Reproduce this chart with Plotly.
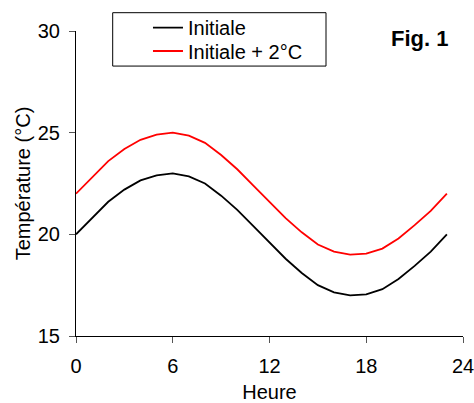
import plotly.graph_objects as go

hours = list(range(24))
initiale = [20.0, 20.8, 21.6, 22.2, 22.65, 22.9, 23.0, 22.85, 22.5, 21.9, 21.2, 20.4,
            19.6, 18.8, 18.1, 17.5, 17.15, 17.0, 17.05, 17.3, 17.8, 18.45, 19.15, 20.0]
plus2 = [22.0, 22.8, 23.6, 24.2, 24.65, 24.9, 25.0, 24.85, 24.5, 23.9, 23.2, 22.4,
         21.6, 20.8, 20.1, 19.5, 19.15, 19.0, 19.05, 19.3, 19.8, 20.45, 21.15, 22.0]
names = ["Initiale", "Initiale + 2°C"]
xticks = [0, 6, 12, 18, 24]
yticks = [15, 20, 25, 30]

FONT = "Liberation Sans, Arial, sans-serif"
FS = 20

fig = go.Figure()
fig.add_trace(go.Scatter(x=hours, y=initiale, mode="lines", name=names[0],
                         line=dict(color="black", width=1.8), legend="legend"))
fig.add_trace(go.Scatter(x=hours, y=plus2, mode="lines", name=names[1],
                         line=dict(color="#ff0000", width=1.8), legend="legend2"))

axis_common = dict(showgrid=False, zeroline=False, showline=True, linecolor="black",
                   linewidth=1, ticks="outside", ticklen=6, tickcolor="#555555",
                   automargin=False, ticklabeloverflow="allow",
                   tickfont=dict(family=FONT, size=FS, color="black"))

fig.update_xaxes(range=[0, 24], tickvals=xticks, ticktext=[str(v) for v in xticks],
                 title=dict(text="Heure", font=dict(family=FONT, size=FS, color="black"), standoff=9),
                 ticklabelstandoff=6, **axis_common)
fig.update_yaxes(range=[15, 30], tickvals=yticks, ticktext=[str(v) for v in yticks],
                 title=dict(text="Température (°C)", font=dict(family=FONT, size=FS, color="black"), standoff=1),
                 ticklabelstandoff=5, **axis_common)

fig.add_annotation(text="<b>Fig. 1</b>", xref="paper", yref="paper", x=0.966, y=0.974,
                   xanchor="right", yanchor="middle", showarrow=False,
                   font=dict(family=FONT, size=22, color="black"))

# legend frame
fig.add_shape(type="rect", xref="paper", yref="paper",
              x0=0.0948, x1=0.646, y0=0.885, y1=1.060,
              line=dict(color="black", width=1), fillcolor="rgba(0,0,0,0)", layer="above")

legend_common = dict(xanchor="left", yanchor="top",
                     borderwidth=0, bgcolor="rgba(0,0,0,0)",
                     font=dict(family=FONT, size=FS, color="black"), itemwidth=30)

fig.update_layout(
    width=474, height=403,
    margin=dict(l=76, r=11, t=31, b=67, autoexpand=False),
    paper_bgcolor="white", plot_bgcolor="white",
    showlegend=True,
    legend=dict(x=0.186, y=1.0748, **legend_common),
    legend2=dict(x=0.186, y=0.9984, **legend_common),
)

fig.write_html("out.html", config={"displayModeBar": False},
               post_script="document.body.style.margin='0';")
